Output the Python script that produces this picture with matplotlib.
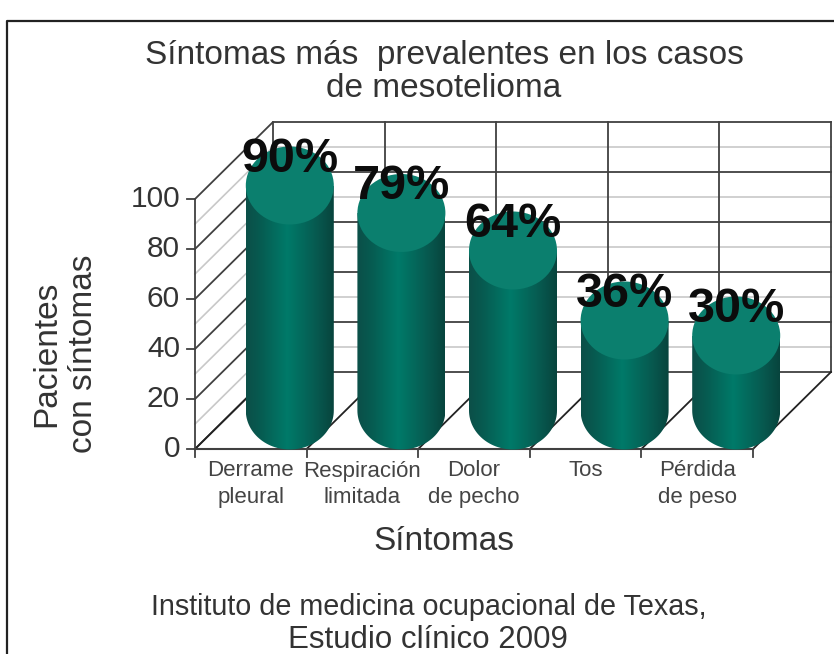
import numpy as np
import matplotlib
matplotlib.use('Agg')
import matplotlib.pyplot as plt
from matplotlib.colors import LinearSegmentedColormap
from matplotlib.patches import Ellipse, PathPatch
from matplotlib.path import Path

categories = ['Derrame\npleural', 'Respiración\nlimitada', 'Dolor\nde pecho', 'Tos', 'Pérdida\nde peso']
values = [90, 79, 64, 36, 30]
value_labels = ['90%', '79%', '64%', '36%', '30%']
y_ticks = [0, 20, 40, 60, 80, 100]
y_minor = [10, 30, 50, 70, 90]

plt.rcParams['font.family'] = ['Liberation Sans', 'DejaVu Sans']

W, H = 834, 654
X0, Y0 = 195, 449      # pixel of the front corner of the chart
PX_CAT = 111.6         # pixels per category
PX_VAL = 2.5           # pixels per percent
DX = 78 / PX_CAT       # depth of the box in data units
DY = 77 / PX_VAL
DARK = '#404040'
LIGHT = '#c8c8c8'
TXT = '#333333'

fig = plt.figure(figsize=(W / 100, H / 100), dpi=100, facecolor='white')
ax = fig.add_axes([0, 0, 1, 1])
ax.axis('off')
xlim = (-X0 / PX_CAT, (W - X0) / PX_CAT)
ylim = (-(H - Y0) / PX_VAL, Y0 / PX_VAL)
n = len(categories)

def px(x):
    return (x - X0) / PX_CAT

def py(y):
    return (Y0 - y) / PX_VAL

# borde de la imagen
ax.plot([px(7), px(7), xlim[1] + 0.1], [ylim[0] - 1, py(20.5), py(20.5)],
        color='#222222', lw=1.6, zorder=1)

# rejilla
for v in y_minor:
    ax.plot([0, DX, n + DX], [v, v + DY, v + DY], color=LIGHT, lw=1.2, zorder=2)
for v in y_ticks:
    ax.plot([0, DX, n + DX], [v, v + DY, v + DY], color=DARK, lw=1.3, zorder=3)
    ax.plot([-0.07, 0], [v, v], color=DARK, lw=1.3, zorder=3)
    ax.text(-0.135, v, str(v), ha='right', va='center', fontsize=21.5, color=TXT, zorder=6)
for i in range(n + 1):
    ax.plot([i + DX, i + DX], [DY, 100 + DY], color=DARK, lw=1.3, zorder=3)
    ax.plot([i, i + DX], [0, DY], color='#222222', lw=1.3, zorder=3)
    ax.plot([i, i], [0, -3.2], color=DARK, lw=1.3, zorder=3)
ax.plot([0, 0], [0, 100], color=DARK, lw=1.3, zorder=3)
ax.plot([0, n], [0, 0], color=DARK, lw=1.5, zorder=3)

# cilindros
cmap = LinearSegmentedColormap.from_list('cyl', [(0, '#0c4f48'), (0.15, '#075a50'), (0.47, '#007a69'),
                                                 (0.8, '#075a50'), (1, '#07443d')])
grad = np.linspace(0, 1, 256).reshape(1, -1)
rx = 44 / PX_CAT
ry = 39 / PX_VAL
theta = np.linspace(np.pi, 2 * np.pi, 60)
for i, v in enumerate(values):
    cx = i + 0.5 + DX / 2
    base = DY / 2
    top = base + v
    xs = np.r_[cx - rx, cx + rx * np.cos(theta), cx + rx, cx - rx]
    ys = np.r_[top, base + ry * np.sin(theta), top, top]
    body = PathPatch(Path(np.c_[xs, ys]), fc='none', ec='none', transform=ax.transData)
    ax.add_patch(body)
    im = ax.imshow(grad, cmap=cmap, aspect='auto', zorder=4, interpolation='bilinear',
                   extent=(cx - rx, cx + rx, base - ry, top))
    im.set_clip_path(body)
    ax.add_patch(Ellipse((cx, top), 2 * rx, 2 * ry, fc='#0b7f6e', ec='none', zorder=5))
    ax.text(cx, top + 10.5, value_labels[i], ha='center', va='center', fontsize=35,
            fontweight='bold', color='#0c0c0c', zorder=7)
    ax.text(i + 0.5, -4.6, categories[i], ha='center', va='top',
            fontsize=16, color='#444444', linespacing=1.32, zorder=6)

ax.text(px(444), py(55), 'Síntomas más  prevalentes en los casos', ha='center', va='center',
        fontsize=24, color=TXT)
ax.text(px(444), py(88), 'de mesotelioma', ha='center', va='center', fontsize=24, color=TXT)
ax.text(px(65), py(354), 'Pacientes\ncon síntomas', rotation=90, ha='center', va='center',
        fontsize=24, color=TXT, linespacing=1.22)
ax.text(px(444), py(541), 'Síntomas', ha='center', va='center', fontsize=24, color=TXT)
ax.text(px(429), py(607), 'Instituto de medicina ocupacional de Texas,', ha='center', va='center',
        fontsize=20.7, color=TXT)
ax.text(px(428), py(640), 'Estudio clínico 2009', ha='center', va='center', fontsize=22.5, color=TXT)

ax.set_xlim(xlim)
ax.set_ylim(ylim)
fig.savefig('out.png', dpi=100, facecolor='white')
